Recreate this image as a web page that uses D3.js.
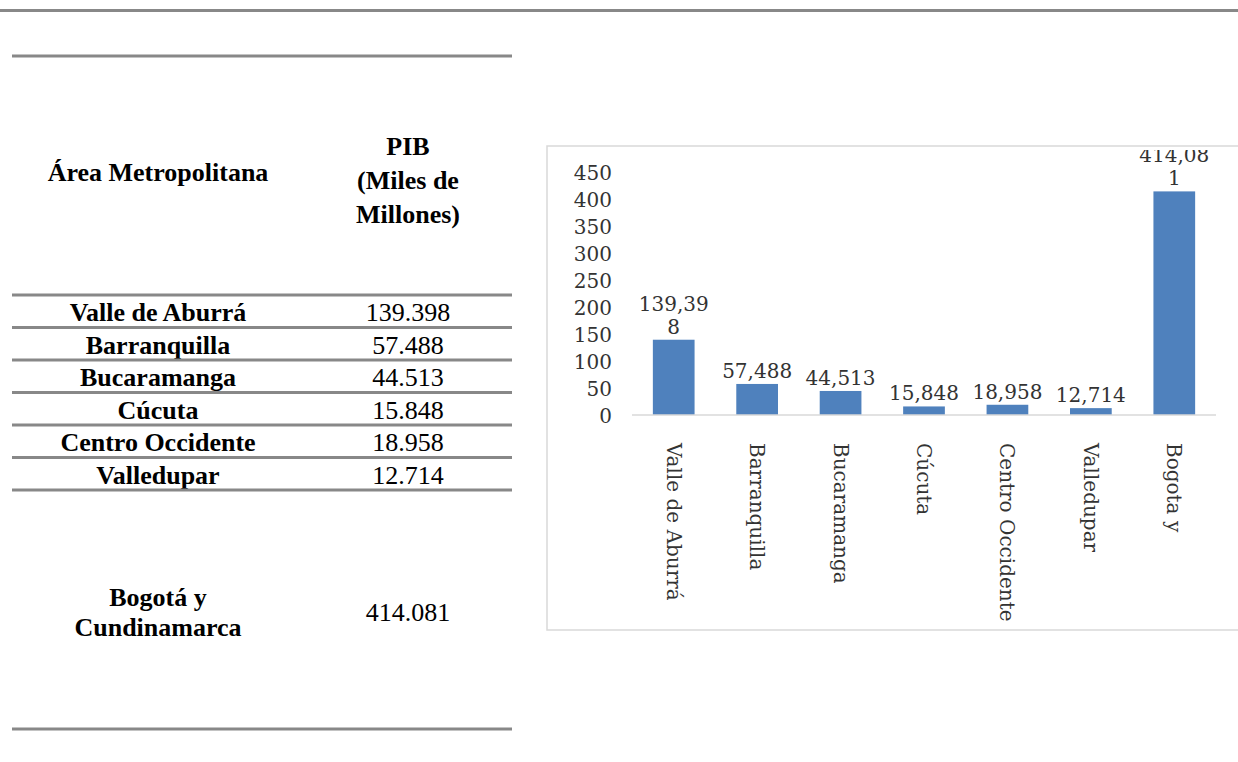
<!DOCTYPE html>
<html>
<head>
<meta charset="utf-8">
<script src="https://cdn.jsdelivr.net/npm/d3@7"></script>
<style>
  body { margin: 0; background: #fff; }
  svg { display: block; }
</style>
</head>
<body>
<svg id="page"></svg>
<script>
// Table data
var areas = ["Valle de Aburrá", "Barranquilla", "Bucaramanga", "Cúcuta", "Centro Occidente", "Valledupar"];
var pibText = ["139.398", "57.488", "44.513", "15.848", "18.958", "12.714"];
var lastArea = ["Bogotá y", "Cundinamarca"];
var lastPib = "414.081";
var headerArea = "Área Metropolitana";
var headerPib = ["PIB", "(Miles de", "Millones)"];

// Chart data
var categories = ["Valle de Aburrá", "Barranquilla", "Bucaramanga", "Cúcuta", "Centro Occidente", "Valledupar", "Bogota y"];
var values = [139.398, 57.488, 44.513, 15.848, 18.958, 12.714, 414.081];
var yTicks = [0, 50, 100, 150, 200, 250, 300, 350, 400, 450];

var W = 1238, H = 762;
var svg = d3.select("#page").attr("width", W).attr("height", H);

var ruleColor = "#888";

// page top rule
svg.append("rect").attr("x", 0).attr("y", 9).attr("width", W).attr("height", 3).attr("fill", ruleColor);

// ---- Table ----
var tX1 = 12, tX2 = 512;
var col1 = 158, col2 = 408;
var tableFont = "'Liberation Serif', 'Times New Roman', serif";

function rule(y) {
  svg.append("rect").attr("x", tX1).attr("y", y - 1.5).attr("width", tX2 - tX1).attr("height", 3).attr("fill", ruleColor);
}

rule(56);

svg.append("text")
  .attr("x", col1).attr("y", 181)
  .attr("text-anchor", "middle")
  .style("font-family", tableFont).style("font-weight", "bold").style("font-size", "26px")
  .text(headerArea);

svg.append("g").selectAll("text")
  .data(headerPib).enter().append("text")
  .attr("x", col2)
  .attr("y", function(d, i) { return 155 + i * 34; })
  .attr("text-anchor", "middle")
  .style("font-family", tableFont).style("font-weight", "bold").style("font-size", "26px")
  .text(function(d) { return d; });

var rowTop = 295, rowH = 32.5;
rule(rowTop);

var rows = svg.append("g");
areas.forEach(function(a, i) {
  var base = rowTop + i * rowH + 26;
  rows.append("text")
    .attr("x", col1).attr("y", base)
    .attr("text-anchor", "middle")
    .style("font-family", tableFont).style("font-weight", "bold").style("font-size", "26px")
    .text(a);
  rows.append("text")
    .attr("x", col2).attr("y", base)
    .attr("text-anchor", "middle")
    .style("font-family", tableFont).style("font-size", "26px")
    .text(pibText[i]);
  rule(rowTop + (i + 1) * rowH);
});

rows.selectAll(".last")
  .data(lastArea).enter().append("text")
  .attr("x", col1)
  .attr("y", function(d, i) { return 606 + i * 30; })
  .attr("text-anchor", "middle")
  .style("font-family", tableFont).style("font-weight", "bold").style("font-size", "26px")
  .text(function(d) { return d; });

rows.append("text")
  .attr("x", col2).attr("y", 621)
  .attr("text-anchor", "middle")
  .style("font-family", tableFont).style("font-size", "26px")
  .text(lastPib);

rule(729);

// ---- Chart ----
var chartFont = "'DejaVu Serif', serif";
var textCol = "#333";

svg.append("clipPath").attr("id", "chartClip")
  .append("rect").attr("x", 547).attr("y", 150).attr("width", 700).attr("height", 480);

svg.append("rect")
  .attr("x", 547).attr("y", 146).attr("width", 720).attr("height", 484)
  .attr("fill", "none").attr("stroke", "#d9d9d9").attr("stroke-width", 1.5);

var chart = svg.append("g").attr("clip-path", "url(#chartClip)");

var x = d3.scaleBand()
  .domain(categories)
  .range([632, 1216])
  .paddingInner(0.5)
  .paddingOuter(0.25);

var y = d3.scaleLinear()
  .domain([0, 450])
  .range([415, 172]);

// y tick labels (no axis line)
chart.append("g").selectAll("text")
  .data(yTicks).enter().append("text")
  .attr("x", 612)
  .attr("y", function(d) { return y(d) + 1; })
  .attr("dy", "0.36em")
  .attr("text-anchor", "end")
  .style("font-family", chartFont).style("font-size", "20px")
  .attr("fill", textCol)
  .text(function(d) { return d; });

// bars
chart.append("g").selectAll("rect")
  .data(values).enter().append("rect")
  .attr("x", function(d, i) { return x(categories[i]); })
  .attr("y", function(d) { return y(d); })
  .attr("width", x.bandwidth())
  .attr("height", function(d) { return y(0) - y(d); })
  .attr("fill", "#4f81bd");

// category axis line
chart.append("line")
  .attr("x1", 632).attr("x2", 1216)
  .attr("y1", y(0)).attr("y2", y(0))
  .attr("stroke", "#d9d9d9").attr("stroke-width", 1.5);

// data labels, wrapped like the original when too wide
function splitLabel(v) {
  var s = d3.format(".3f")(v).replace(".", ",");
  return s.length > 6 ? [s.slice(0, 6), s.slice(6)] : [s];
}

var labels = chart.append("g");
values.forEach(function(v, i) {
  var lines = splitLabel(v);
  var cx = x(categories[i]) + x.bandwidth() / 2;
  lines.forEach(function(t, j) {
    labels.append("text")
      .attr("x", cx)
      .attr("y", y(v) - 6 - (lines.length - 1 - j) * 23)
      .attr("text-anchor", "middle")
      .style("font-family", chartFont).style("font-size", "20px")
      .attr("fill", textCol)
      .text(t);
  });
});

// rotated category labels
chart.append("g").selectAll("text")
  .data(categories).enter().append("text")
  .attr("transform", function(d) {
    return "translate(" + (x(d) + x.bandwidth() / 2) + ",443) rotate(90)";
  })
  .attr("dy", "0.35em")
  .style("font-family", chartFont).style("font-size", "20px")
  .attr("fill", textCol)
  .text(function(d) { return d; });
</script>
</body>
</html>
